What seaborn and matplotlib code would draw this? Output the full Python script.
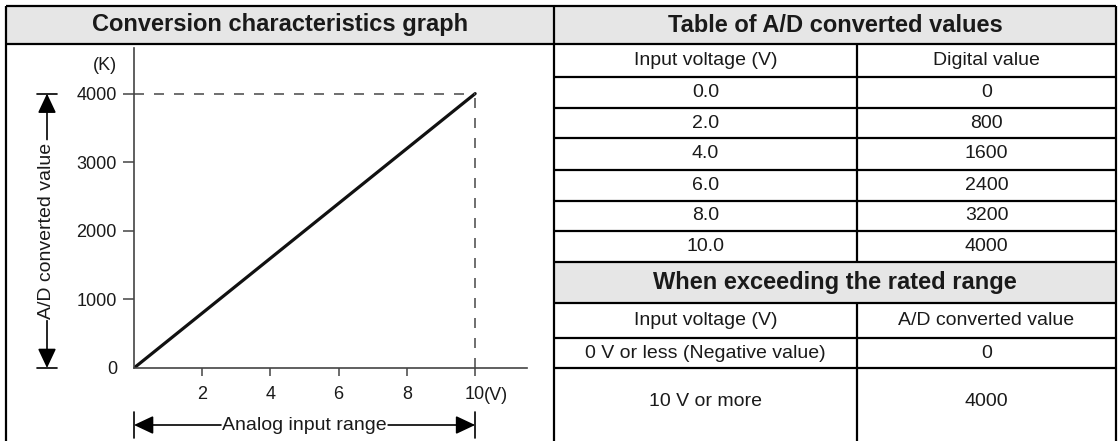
"""
Conversion characteristics graph + table of A/D converted values
"""

import matplotlib
matplotlib.use('Agg')
import matplotlib.pyplot as plt
from matplotlib.patches import Rectangle
import seaborn as sns

# ---- data ----
graph_title = 'Conversion characteristics graph'
table_title = 'Table of A/D converted values'
over_title = 'When exceeding the rated range'
col_headers = ['Input voltage (V)', 'Digital value']
over_headers = ['Input voltage (V)', 'A/D converted value']
input_voltage = [0.0, 2.0, 4.0, 6.0, 8.0, 10.0]
digital_value = [0, 800, 1600, 2400, 3200, 4000]
over_inputs = ['0 V or less (Negative value)', '10 V or more']
over_values = [0, 4000]
x_ticks = [2, 4, 6, 8, 10]
y_ticks = [0, 1000, 2000, 3000, 4000]
x_unit = '(V)'
y_unit = '(K)'
x_label = 'Analog input range'
y_label = 'A/D converted value'

W, H = 1119, 441
TEXT = '#1a1a1a'
GRAY = '#e6e6e6'

sns.set_style('white')
plt.rcParams['font.family'] = ['Liberation Sans', 'DejaVu Sans']
plt.rcParams['text.color'] = TEXT

fig = plt.figure(figsize=(W / 100, H / 100), dpi=100)

# full-figure canvas in pixel units for the table frame
canvas = fig.add_axes([0, 0, 1, 1])
canvas.set_xlim(0, W)
canvas.set_ylim(H, 0)
canvas.axis('off')

left, mid, col, right = 6, 554, 857, 1116
rows = [6, 44, 77, 108, 138, 170, 201, 231, 262, 303, 338, 368]
c1, c2 = (mid + col) / 2, (col + right) / 2
tc = (mid + right) / 2

canvas.add_patch(Rectangle((left, rows[0]), right - left, rows[1] - rows[0], color=GRAY, lw=0))
canvas.add_patch(Rectangle((mid, rows[8]), right - mid, rows[9] - rows[8], color=GRAY, lw=0))

lw = 1.6
canvas.hlines([rows[0], rows[1]], left, right, color='black', lw=lw)
canvas.hlines(rows[2:], mid, right, color='black', lw=lw)
canvas.vlines([left, mid, right], rows[0], H + 5, color='black', lw=lw)
canvas.vlines(col, rows[1], rows[8], color='black', lw=lw)
canvas.vlines(col, rows[9], H + 5, color='black', lw=lw)

def mid_y(i):
    return (rows[i] + rows[i + 1]) / 2

canvas.text((left + mid) / 2, mid_y(0), graph_title, ha='center', va='center',
            fontsize=17, fontweight='bold')
canvas.text(tc, mid_y(0), table_title, ha='center', va='center', fontsize=17, fontweight='bold')
canvas.text(c1, mid_y(1), col_headers[0], ha='center', va='center', fontsize=14)
canvas.text(c2, mid_y(1), col_headers[1], ha='center', va='center', fontsize=14)
for i, (v, d) in enumerate(zip(input_voltage, digital_value)):
    canvas.text(c1, mid_y(2 + i), f'{v:.1f}', ha='center', va='center', fontsize=14)
    canvas.text(c2, mid_y(2 + i), str(d), ha='center', va='center', fontsize=14)
canvas.text(tc, mid_y(8), over_title, ha='center', va='center', fontsize=17, fontweight='bold')
canvas.text(c1, mid_y(9), over_headers[0], ha='center', va='center', fontsize=14)
canvas.text(c2, mid_y(9), over_headers[1], ha='center', va='center', fontsize=14)
over_y = [mid_y(10), 401]
for y, s, val in zip(over_y, over_inputs, over_values):
    canvas.text(c1, y, s, ha='center', va='center', fontsize=14)
    canvas.text(c2, y, str(val), ha='center', va='center', fontsize=14)

# ---- conversion characteristics graph ----
x0, x1, y0, y1 = 134, 527, 368, 48
ax = fig.add_axes([x0 / W, 1 - y0 / H, (x1 - x0) / W, (y0 - y1) / H])
ax.patch.set_alpha(0)
sns.lineplot(x=input_voltage, y=digital_value, ax=ax, color='#111111', linewidth=2.3)
ax.set_xlim(0, 11.52)
ax.set_ylim(0, 4665)

xmax, ymax = input_voltage[-1], digital_value[-1]
ax.hlines(ymax, 0, xmax, colors='#555555', linestyles=(0, (6, 6)), linewidth=1.2)
ax.vlines(xmax, 0, ymax, colors='#555555', linestyles=(0, (6, 6)), linewidth=1.2)

sns.despine(ax=ax)
for side in ['left', 'bottom']:
    ax.spines[side].set_color('#444444')
    ax.spines[side].set_linewidth(1.2)
ax.set_xticks(x_ticks)
ax.set_yticks(y_ticks)
ax.tick_params(axis='y', left=True, length=8, width=1.1, color='#444444', pad=4.3,
               labelsize=13, labelcolor=TEXT)
ax.tick_params(axis='x', bottom=True, length=5.8, width=1.1, color='#444444', pad=7,
               labelsize=13, labelcolor=TEXT)
ax.yaxis.get_major_ticks()[0].tick1line.set_visible(False)
ax.set_xlabel('')
ax.set_ylabel('')

ax.annotate(y_unit, xy=(0, ymax), xytext=(-17, 28), textcoords='offset pixels',
            ha='right', va='center', fontsize=13)
ax.annotate(x_unit, xy=(xmax, 0), xytext=(9, -27), textcoords='offset pixels',
            ha='left', va='center', fontsize=13)

# y bracket: A/D converted value
ytr = ax.get_yaxis_transform()
bx = (47 - x0) / (x1 - x0)
bw = 10 / (x1 - x0)
arrow = dict(arrowstyle='-|>,head_length=0.85,head_width=0.4', mutation_scale=14,
             lw=1.2, color='black', shrinkA=0, shrinkB=0)
ax.text(bx, ymax / 2, y_label, transform=ytr, rotation=90, ha='center', va='center', fontsize=14)
ax.annotate('', xy=(bx, ymax), xytext=(bx, 3330), xycoords=ytr, textcoords=ytr,
            arrowprops=arrow, annotation_clip=False)
ax.annotate('', xy=(bx, 0), xytext=(bx, 690), xycoords=ytr, textcoords=ytr,
            arrowprops=arrow, annotation_clip=False)
for yv in [0, ymax]:
    ax.plot([bx - bw, bx + bw], [yv, yv], transform=ytr, color='black', lw=1.2, clip_on=False)

# x bracket: Analog input range
xtr = ax.get_xaxis_transform()
by = (y0 - 425) / (y0 - y1)
bh = 13 / (y0 - y1)
ax.text(xmax / 2, by, x_label, transform=xtr, ha='center', va='center', fontsize=14)
ax.annotate('', xy=(0, by), xytext=(2.55, by), xycoords=xtr, textcoords=xtr,
            arrowprops=arrow, annotation_clip=False)
ax.annotate('', xy=(xmax, by), xytext=(7.45, by), xycoords=xtr, textcoords=xtr,
            arrowprops=arrow, annotation_clip=False)
for xv in [0, xmax]:
    ax.plot([xv, xv], [by - bh, by + bh], transform=xtr, color='black', lw=1.2, clip_on=False)

fig.savefig('out.png', dpi=100)
